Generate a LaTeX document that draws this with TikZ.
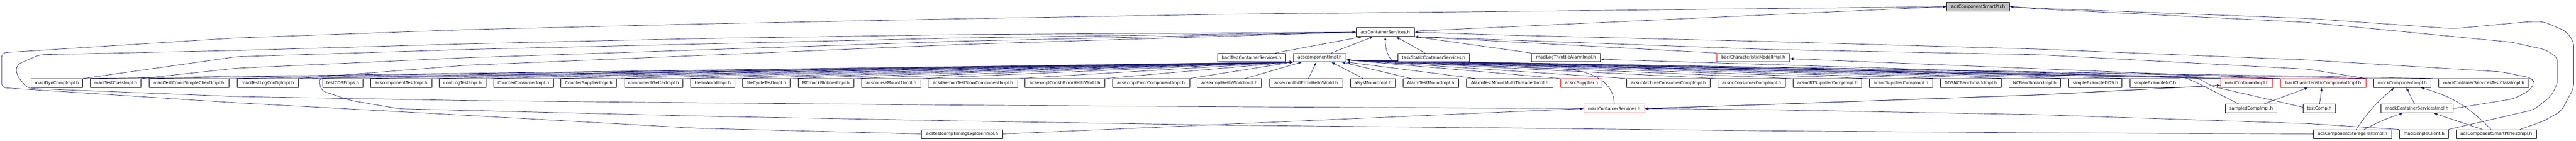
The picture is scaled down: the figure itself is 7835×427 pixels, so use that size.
\documentclass[tikz,border=0pt]{standalone}
\usepackage{fontspec}
\setmainfont{DejaVu Sans}
\usetikzlibrary{arrows.meta,backgrounds}
\definecolor{edgeblue}{HTML}{191970}

\begin{document}
\begin{tikzpicture}[x=1pt, y=-1pt,
    file/.style={draw=black, line width=1pt, fill=white, minimum height=26.5pt, inner sep=2pt, font=\fontsize{12.8}{14}\selectfont},
    redfile/.style={file, draw=red},
    rootfile/.style={file, fill=gray!50},
    inc/.style={draw=edgeblue, line width=1.1pt, -{Latex[length=11pt,width=8pt]}},
    route/.style={rounded corners=14pt}]
  \useasboundingbox (0,0) rectangle (7835,427);

  \node [rootfile, minimum width=191pt] (sptr) at (6016.5,20) {acsComponentSmartPtr.h};
  \node [file, minimum width=177pt] (cs) at (4213.5,97.5) {acsContainerServices.h};

  \node [file, minimum width=207pt] (btcs) at (3806.5,174.5) {baciTestContainerServices.h};
  \node [redfile, minimum width=160pt] (comp) at (4014,174.5) {acscomponentImpl.h};
  \node [file, minimum width=219pt] (tscs) at (4360.5,174.5) {taskStaticContainerServices.h};
  \node [file, minimum width=210pt] (mlta) at (4763,174.5) {maciLogThrottleAlarmImpl.h};
  \node [redfile, minimum width=221pt] (bcmi) at (5332.5,174.5) {baciCharacteristicModelImpl.h};

  \node [file, minimum width=158pt] (dyn) at (173,252) {maciDynCompImpl.h};
  \node [file, minimum width=154pt] (tclass) at (352,252) {maciTestClassImpl.h};
  \node [file, minimum width=243pt] (tcsc) at (574.5,252) {maciTestCompSimpleClientImpl.h};
  \node [file, minimum width=186pt] (tlog) at (814,252) {maciTestLogConfigImpl.h};
  \node [file, minimum width=123pt] (cdb) at (1042.5,252) {testCDBProps.h};
  \node [file, minimum width=186pt] (ctest) at (1220,252) {acscomponentTestImpl.h};
  \node [file, minimum width=142pt] (clog) at (1407,252) {contLogTestImpl.h};
  \node [file, minimum width=182pt] (ccons) at (1592,252) {CounterConsumerImpl.h};
  \node [file, minimum width=169pt] (csup) at (1790.5,252) {CounterSupplierImpl.h};
  \node [file, minimum width=178pt] (cget) at (1988,252) {componentGetterImpl.h};
  \node [file, minimum width=134pt] (hello) at (2168,252) {HelloWorldImpl.h};
  \node [file, minimum width=145pt] (life) at (2330.5,252) {lifeCycleTestImpl.h};
  \node [file, minimum width=170pt] (mcblob) at (2512,252) {MCmockBlobberImpl.h};
  \node [file, minimum width=179pt] (mount1) at (2710.5,252) {acscourseMount1Impl.h};
  \node [file, minimum width=272pt] (slow) at (2959,252) {acsdaemonTestSlowComponentImpl.h};
  \node [file, minimum width=242pt] (constr) at (3239,252) {acsexmplConstrErrorHelloWorld.h};
  \node [file, minimum width=235pt] (errcomp) at (3500.5,252) {acsexmplErrorComponentImpl.h};
  \node [file, minimum width=196pt] (exhello) at (3739,252) {acsexmplHelloWorldImpl.h};
  \node [file, minimum width=223pt] (initerr) at (3972.5,252) {acsexmplInitErrorHelloWorld.h};
  \node [file, minimum width=137pt] (alsys) at (4175.5,252) {alsysMountImpl.h};
  \node [file, minimum width=169pt] (atm) at (4351.5,252) {AlarmTestMountImpl.h};
  \node [file, minimum width=264pt] (atmmt) at (4592,252) {AlarmTestMountMultiThreadedImpl.h};
  \node [redfile, minimum width=126pt] (ncsup) at (4810,252) {acsncSupplier.h};
  \node [file, minimum width=255pt] (ncarch) at (5074.5,252) {acsncArchiveConsumerCompImpl.h};
  \node [file, minimum width=205pt] (nccons) at (5327.5,252) {acsncConsumerCompImpl.h};
  \node [file, minimum width=208pt] (ncrts) at (5558,252) {acsncRTSupplierCompImpl.h};
  \node [file, minimum width=193pt] (ncsupc) at (5781.5,252) {acsncSupplierCompImpl.h};
  \node [file, minimum width=186pt] (ddsnc) at (5994,252) {DDSNCBenchmarkImpl.h};
  \node [file, minimum width=157pt] (ncbench) at (6188.5,252) {NCBenchmarkImpl.h};
  \node [file, minimum width=162pt] (sedds) at (6373,252) {simpleExampleDDS.h};
  \node [file, minimum width=152pt] (senc) at (6554,252) {simpleExampleNC.h};
  \node [redfile, minimum width=159pt] (mci) at (6833.5,252) {maciContainerImpl.h};
  \node [redfile, minimum width=260pt] (bcci) at (7066,252) {baciCharacteristicComponentImpl.h};
  \node [file, minimum width=175pt] (mock) at (7306.5,252) {mockComponentImpl.h};
  \node [file, minimum width=275pt] (mcstc) at (7554.5,252) {maciContainerServicesTestClassImpl.h};

  \node [redfile, minimum width=185pt] (mcs) at (4909.5,329.5) {maciContainerServices.h};
  \node [file, minimum width=156pt] (sampled) at (6847,329.5) {sampledCompImpl.h};
  \node [file, minimum width=98pt] (tcomp) at (7054,329.5) {testComp.h};
  \node [file, minimum width=220pt] (mocksvc) at (7351,329.5) {mockContainerServicesImpl.h};

  \node [file, minimum width=247pt] (timing) at (2926.5,406.5) {acstestcompTimingExplorerImpl.h};
  \node [file, minimum width=237pt] (storage) at (7155.5,406.5) {acsComponentStorageTestImpl.h};
  \node [file, minimum width=149pt] (simple) at (7372.5,406.5) {maciSimpleClient.h};
  \node [file, minimum width=243pt] (sptest) at (7592.5,406.5) {acsComponentSmartPtrTestImpl.h};

  \begin{scope}[on background layer]
    \draw [inc] ([yshift=3pt]cs.east) -- (sptr.west);
    \draw [inc, route] (timing.west) -- (2120,389) -- (1420,350) -- (720,312) -- (5,266) -- (5,160) -- (720,115) -- (1420,90) -- (2120,73) -- (2920,57) -- (3740,43) -- (4560,35) -- (5380,26) -- (sptr.west);
    \draw [inc, route] (simple.north east) -- (7706,333) -- (7758,293) -- (7779,253) -- (7779,175) -- (7743,151) -- (7639,128) -- (7020,68) -- (6200,27) -- (sptr.east);
    \draw [inc, route] ([xshift=72pt]sptest.north) -- (7737,367) -- (7790,337) -- (7828,267) -- (7828,127) -- (7805,95) -- (7737,66) -- (7690,66) -- (7462,87) -- (7020,56) -- (6200,25) -- (sptr.east);

    \draw [inc, route] (mcs.west) -- (3740,324) -- (2920,319) -- (2120,312) -- (1420,305) -- (720,293) -- (83,268) -- (50,227) -- (50,197) -- (120,166) -- (720,153) -- (1420,133) -- (2120,117) -- (2920,105) -- (cs.west);
    \draw [inc, route] (dyn.north east) -- (720,172) -- (1420,150) -- (2920,115) -- (cs.west);
    \draw [inc, route] (tclass.north east) -- (720,207) -- (1420,175) -- (2920,125) -- (cs.west);
    \draw [inc, route] (tlog.north east) -- (1420,198) -- (2920,135) -- (cs.west);
    \draw [inc, route] (mocksvc.east) -- (7644,300) -- (7691,277) -- (7709,253) -- (7701,237) -- (7608,218) -- (7020,182) -- (6200,149) -- (5380,126) -- (4560,106) -- (cs.east);
    \draw [inc, route] (bcci.north east) -- (7020,210) -- (6200,166) -- (5380,150) -- (cs.south east);
    \draw [inc] (mci.north west) -- (4250,192) .. controls (4225,188) and (4213,150) .. (cs.south);

    \draw [inc] ([xshift=72pt]btcs.north) -- ([xshift=-70pt]cs.south);
    \draw [inc] ([xshift=35pt]comp.north) -- ([xshift=-37pt]cs.south);
    \draw [inc] ([xshift=-26pt]tscs.north) -- ([xshift=32pt]cs.south);
    \draw [inc] (mlta.north west) -- (cs.south east);
    \draw [inc] (bcmi.north west) -- (cs.south east);
    \draw [inc] (mci.north west) -- ([yshift=-5.5pt]mlta.east);
    \draw [inc] (bcci.north west) -- ([yshift=-3.5pt]bcmi.east);

    \foreach \src in {dyn,tclass,tcsc,tlog,cdb,ctest,clog,ccons,csup,cget,hello,life,mcblob,mount1,slow,constr,errcomp}
      \draw [inc] (\src.north east) -- (comp.south west);
    \draw [inc] ([xshift=48pt]exhello.north) -- ([xshift=-54pt]comp.south);
    \draw [inc] ([xshift=7pt]initerr.north) -- ([xshift=-10pt]comp.south);
    \draw [inc] ([xshift=-29pt]alsys.north) -- ([xshift=35pt]comp.south);
    \draw [inc] ([xshift=-60pt]atm.north) -- ([xshift=66pt]comp.south);
    \draw [inc] ([xshift=-104pt]atmmt.north) -- (comp.south east);
    \foreach \src in {ncsup,ncarch,nccons,ncrts,ncsupc,ddsnc,ncbench,sedds,senc,mci,bcci,mock,mcstc}
      \draw [inc] (\src.north west) -- ([yshift=-7.5pt]comp.east);

    \draw [inc] (mcs.north) to [out=90, in=-3] (4760,210) -- ([yshift=-7.5pt]comp.east);
    \draw [inc, route] (mcs.east) -- (5380,317) -- (6200,288) -- ([yshift=-7pt]mci.west);
    \draw [inc, route] ([yshift=-7pt]mci.west) -- (6200,288) -- (5380,317) -- (mcs.east);
    \draw [inc] (timing.east) -- (mcs.west);
    \draw [inc, route] (simple.north west) -- (7020,375) -- (6200,348) -- (5380,333) -- (mcs.east);
    \draw [inc, route] (storage.west) -- (6200,403) -- (5380,397) -- (4560,388) -- (3740,380) -- (2920,367) -- (2120,352) -- (1214,330) -- (1067,305) -- (977,275) -- (969,237) -- (comp.south west);

    \draw [inc] ([xshift=38pt]sampled.north) -- ([xshift=-46pt]bcci.south);
    \draw [inc] ([xshift=1pt]tcomp.north) -- ([xshift=-4pt]bcci.south);
    \draw [inc, route] ([xshift=-37pt]sampled.north) -- (6680,250) -- (6640,233) -- ([yshift=-7.5pt]comp.east);
    \draw [inc, route] ([yshift=4pt]tcomp.west) -- (6728,262) -- (6686,237) -- ([yshift=-7.5pt]comp.east);

    \draw [inc] ([xshift=-7pt]mocksvc.north) -- ([xshift=12pt]mock.south);
    \draw [inc] ([xshift=11pt]storage.north) to [bend left=8] ([xshift=-24pt]mock.south);
    \draw [inc] ([xshift=35pt]storage.north) to [bend left=5] ([xshift=-42pt]mocksvc.south);
    \draw [inc] ([xshift=-16pt]sptest.north) to [bend right=15] ([xshift=56pt]mock.south);
    \draw [inc] ([xshift=-42pt]sptest.north) -- ([xshift=51pt]mocksvc.south);
  \end{scope}
\end{tikzpicture}
\end{document}
